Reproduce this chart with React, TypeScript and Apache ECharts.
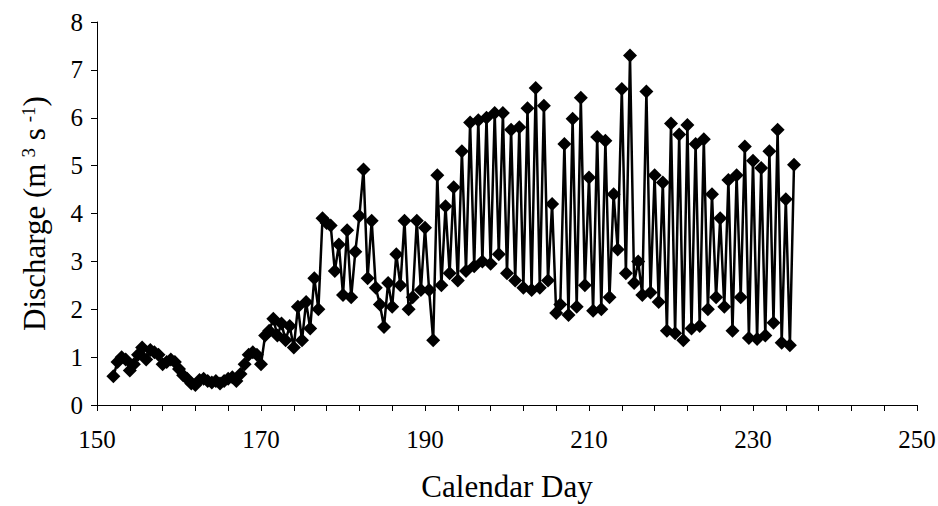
import React, { useEffect, useRef } from "react";
import * as echarts from "echarts";

// Calendar day of each sample (twice-daily)
const days: number[] = [
  152.0, 152.5, 153.0, 153.5, 154.0, 154.5, 155.0, 155.5, 156.0, 156.5,
  157.0, 157.5, 158.0, 158.5, 159.0, 159.5, 160.0, 160.5, 161.0, 161.5,
  162.0, 162.5, 163.0, 163.5, 164.0, 164.5, 165.0, 165.5, 166.0, 166.5,
  167.0, 167.5, 168.0, 168.5, 169.0, 169.5, 170.0, 170.5, 171.0, 171.5,
  172.0, 172.5, 173.0, 173.5, 174.0, 174.5, 175.0, 175.5, 176.0, 176.5,
  177.0, 177.5, 178.0, 178.5, 179.0, 179.5, 180.0, 180.5, 181.0, 181.5,
  182.0, 182.5, 183.0, 183.5, 184.0, 184.5, 185.0, 185.5, 186.0, 186.5,
  187.0, 187.5, 188.0, 188.5, 189.0, 189.5, 190.0, 190.5, 191.0, 191.5,
  192.0, 192.5, 193.0, 193.5, 194.0, 194.5, 195.0, 195.5, 196.0, 196.5,
  197.0, 197.5, 198.0, 198.5, 199.0, 199.5, 200.0, 200.5, 201.0, 201.5,
  202.0, 202.5, 203.0, 203.5, 204.0, 204.5, 205.0, 205.5, 206.0, 206.5,
  207.0, 207.5, 208.0, 208.5, 209.0, 209.5, 210.0, 210.5, 211.0, 211.5,
  212.0, 212.5, 213.0, 213.5, 214.0, 214.5, 215.0, 215.5, 216.0, 216.5,
  217.0, 217.5, 218.0, 218.5, 219.0, 219.5, 220.0, 220.5, 221.0, 221.5,
  222.0, 222.5, 223.0, 223.5, 224.0, 224.5, 225.0, 225.5, 226.0, 226.5,
  227.0, 227.5, 228.0, 228.5, 229.0, 229.5, 230.0, 230.5, 231.0, 231.5,
  232.0, 232.5, 233.0, 233.5, 234.0, 234.5, 235.0,
];

// Discharge (m3 s-1)
const discharge: number[] = [
  0.60, 0.90, 1.00, 0.95, 0.72, 0.85, 1.05, 1.20, 0.95, 1.15,
  1.10, 1.05, 0.85, 0.90, 0.95, 0.90, 0.75, 0.62, 0.55, 0.45,
  0.42, 0.52, 0.55, 0.50, 0.47, 0.50, 0.45, 0.50, 0.55, 0.58,
  0.50, 0.65, 0.85, 1.05, 1.10, 1.05, 0.85, 1.45, 1.55, 1.80,
  1.45, 1.70, 1.35, 1.65, 1.20, 2.05, 1.35, 2.15, 1.60, 2.65,
  2.00, 3.90, 3.80, 3.75, 2.80, 3.35, 2.30, 3.65, 2.25, 3.20,
  3.95, 4.92, 2.65, 3.85, 2.45, 2.10, 1.63, 2.55, 2.05, 3.15,
  2.50, 3.85, 2.00, 2.25, 3.85, 2.40, 3.70, 2.40, 1.35, 4.80,
  2.50, 4.15, 2.75, 4.55, 2.60, 5.30, 2.80, 5.90, 2.90, 5.95,
  3.00, 6.00, 2.95, 6.10, 3.15, 6.10, 2.75, 5.75, 2.60, 5.80,
  2.45, 6.20, 2.40, 6.62, 2.45, 6.25, 2.60, 4.20, 1.92, 2.10,
  5.45, 1.88, 5.98, 2.05, 6.42, 2.50, 4.75, 1.97, 5.60, 2.00,
  5.52, 2.25, 4.40, 3.25, 6.60, 2.75, 7.30, 2.55, 3.00, 2.30,
  6.55, 2.35, 4.80, 2.15, 4.65, 1.55, 5.88, 1.50, 5.65, 1.35,
  5.85, 1.60, 5.45, 1.65, 5.55, 2.00, 4.40, 2.25, 3.90, 2.05,
  4.70, 1.55, 4.80, 2.25, 5.40, 1.40, 5.10, 1.38, 4.95, 1.45,
  5.30, 1.72, 5.75, 1.30, 4.30, 1.25, 5.02,
];

// Axis settings
const X_START = 150;
const X_END = 250;
const X_MAJOR = 20;
const Y_MIN = 0;
const Y_MAX = 8;

const FONT = "'Liberation Serif', 'Times New Roman', serif";

export default function App() {
  const ref = useRef<HTMLDivElement>(null);

  useEffect(() => {
    if (!ref.current) return;
    const chart = echarts.init(ref.current, undefined, { renderer: "svg" });
    // x axis offset so ticks start at X_START
    const data = days.map((d, i) => [d - X_START, discharge[i]]);
    chart.setOption({
      animation: false,
      backgroundColor: "#ffffff",
      grid: {
        left: 97,
        right: 21,
        top: 22,
        bottom: 101,
        containLabel: false,
        outerBoundsMode: "none",
      },
      xAxis: {
        type: "value",
        min: 0,
        max: X_END - X_START,
        interval: X_MAJOR,
        name: "Calendar Day",
        nameLocation: "middle",
        nameGap: 66,
        nameTextStyle: { fontFamily: FONT, fontSize: 31, color: "#000" },
        axisLine: { show: true, lineStyle: { color: "#000", width: 1 } },
        axisTick: { show: true, inside: false, length: 6, lineStyle: { color: "#000" } },
        minorTick: { show: true, splitNumber: 5, length: 6, lineStyle: { color: "#000" } },
        splitLine: { show: false },
        minorSplitLine: { show: false },
        axisLabel: {
          fontFamily: FONT,
          fontSize: 25,
          color: "#000",
          margin: 22,
          formatter: (v: number) => String(v + X_START),
        },
      },
      yAxis: {
        type: "value",
        min: Y_MIN,
        max: Y_MAX,
        interval: 1,
        name: "Discharge (m{sup|3} s{sup|-1})",
        nameLocation: "middle",
        nameGap: 47,
        nameRotate: 90,
        nameTextStyle: {
          fontFamily: FONT,
          fontSize: 31,
          color: "#000",
          rich: {
            sup: {
              fontFamily: FONT,
              fontSize: 19,
              color: "#000",
              verticalAlign: "top",
              padding: [0, 0, 12, 6],
            },
          },
        },
        axisLine: { show: true, lineStyle: { color: "#000", width: 1 } },
        axisTick: { show: true, inside: false, length: 6, lineStyle: { color: "#000" } },
        splitLine: { show: false },
        axisLabel: { fontFamily: FONT, fontSize: 25, color: "#000", margin: 14 },
      },
      series: [
        {
          type: "line",
          data,
          symbol: "diamond",
          symbolSize: 14,
          showAllSymbol: true,
          itemStyle: { color: "#000" },
          lineStyle: { color: "#000", width: 2.5 },
        },
      ],
    });
    return () => chart.dispose();
  }, []);

  return (
    <div
      ref={ref}
      style={{ position: "fixed", left: 0, top: 0, width: 938, height: 506 }}
    />
  );
}
